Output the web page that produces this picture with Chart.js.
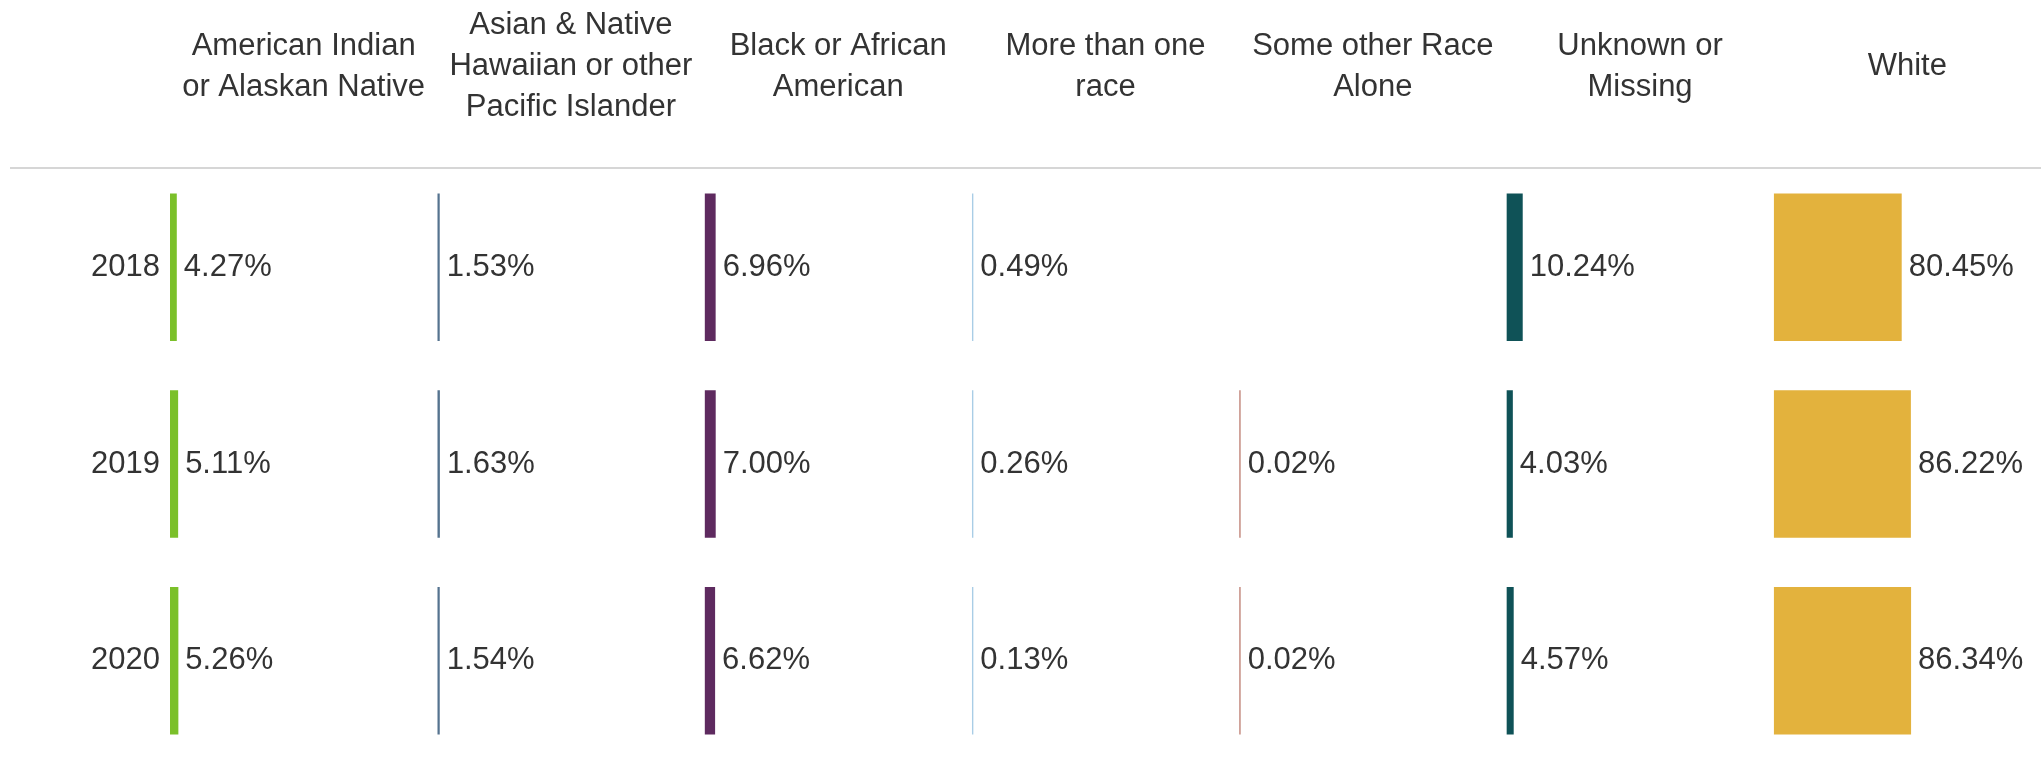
<!DOCTYPE html>
<html>
<head>
<meta charset="utf-8">
<script src="https://cdn.jsdelivr.net/npm/chart.js@4"></script>
<style>
    html, body { margin: 0; padding: 0; background: #ffffff; }
    #raceChart { display: block; }
</style>
</head>
<body>
<canvas id="raceChart" width="2041" height="759"></canvas>
<script>
// 数据 - 各年份种族构成占比 (%)
const years = ['2018', '2019', '2020'];

const categories = [
    ['American Indian', 'or Alaskan Native'],
    ['Asian & Native', 'Hawaiian or other', 'Pacific Islander'],
    ['Black or African', 'American'],
    ['More than one', 'race'],
    ['Some other Race', 'Alone'],
    ['Unknown or', 'Missing'],
    ['White']
];

const americanIndian = [4.27, 5.11, 5.26];
const asianPacific = [1.53, 1.63, 1.54];
const blackAfrican = [6.96, 7.00, 6.62];
const moreThanOne = [0.49, 0.26, 0.13];
const someOther = [null, 0.02, 0.02];
const unknownMissing = [10.24, 4.03, 4.57];
const white = [80.45, 86.22, 86.34];

const seriesValues = [americanIndian, asianPacific, blackAfrican, moreThanOne, someOther, unknownMissing, white];
const seriesColors = ['#7bc02a', '#55738f', '#5e2a5f', '#a9cde6', '#bf8276', '#0f5257', '#e3b23d'];

const FONT_FAMILY = "'Liberation Sans', Arial, sans-serif";
const FONT_SIZE = 31;
const TEXT_COLOR = '#333333';
const LINE_HEIGHT = 41;
const HEADER_HEIGHT = 169;

// 表头分隔线
const headerRulePlugin = {
    id: 'headerRule',
    afterDraw(chart) {
        const ctx = chart.ctx;
        ctx.save();
        ctx.strokeStyle = '#d6d6d6';
        ctx.lineWidth = 2;
        ctx.beginPath();
        ctx.moveTo(10, chart.chartArea.top - 1);
        ctx.lineTo(chart.width, chart.chartArea.top - 1);
        ctx.stroke();
        ctx.restore();
    }
};

// 柱子右侧的数值标签
const valueLabelPlugin = {
    id: 'valueLabels',
    afterDatasetsDraw(chart) {
        const ctx = chart.ctx;
        ctx.save();
        ctx.font = FONT_SIZE + 'px ' + FONT_FAMILY;
        ctx.fillStyle = TEXT_COLOR;
        ctx.textAlign = 'left';
        ctx.textBaseline = 'middle';
        chart.data.datasets.forEach((dataset, di) => {
            const meta = chart.getDatasetMeta(di);
            meta.data.forEach((bar, i) => {
                const value = dataset.data[i];
                if (value === null || value === undefined) return;
                ctx.fillText(value.toFixed(2) + '%', bar.x + 7, bar.y);
            });
        });
        ctx.restore();
    }
};

const scales = {
    y: {
        type: 'category',
        position: 'left',
        grid: { display: false, drawTicks: false },
        border: { display: false },
        ticks: {
            color: TEXT_COLOR,
            padding: 10,
            font: { family: FONT_FAMILY, size: FONT_SIZE }
        },
        afterFit(scale) {
            scale.width = 170;
            scale.paddingTop = 0;
            scale.paddingBottom = 0;
        }
    }
};

// 每个类别一个 x 轴，横向堆叠成分栏（顶部的轴按倒序排布，所以倒着加）
for (let i = categories.length - 1; i >= 0; i--) {
    const title = categories[i];
    const lines = title.length;
    const padTop = 5 + (3 - lines) * LINE_HEIGHT / 2;
    scales['x' + i] = {
        type: 'linear',
        position: 'top',
        stack: 'panels',
        stackWeight: 1,
        min: 0,
        max: 168,
        grid: { display: false, drawTicks: false },
        border: { display: false },
        ticks: { display: false },
        title: {
            display: true,
            text: title,
            color: TEXT_COLOR,
            font: { family: FONT_FAMILY, size: FONT_SIZE, lineHeight: LINE_HEIGHT / FONT_SIZE },
            padding: { top: padTop, bottom: HEADER_HEIGHT - lines * LINE_HEIGHT - padTop }
        }
    };
}

const datasets = seriesValues.map((values, i) => ({
    label: categories[i].join(' '),
    data: values,
    xAxisID: 'x' + i,
    yAxisID: 'y',
    backgroundColor: seriesColors[i],
    borderWidth: 0,
    grouped: false,
    barPercentage: 0.75,
    categoryPercentage: 1,
    minBarLength: 1.5
}));

const chart = new Chart(document.getElementById('raceChart'), {
    type: 'bar',
    data: {
        labels: years,
        datasets: datasets
    },
    options: {
        indexAxis: 'y',
        responsive: false,
        animation: false,
        layout: { padding: 0 },
        plugins: {
            legend: { display: false },
            tooltip: { enabled: false }
        },
        scales: scales
    },
    plugins: [headerRulePlugin, valueLabelPlugin]
});
</script>
</body>
</html>
